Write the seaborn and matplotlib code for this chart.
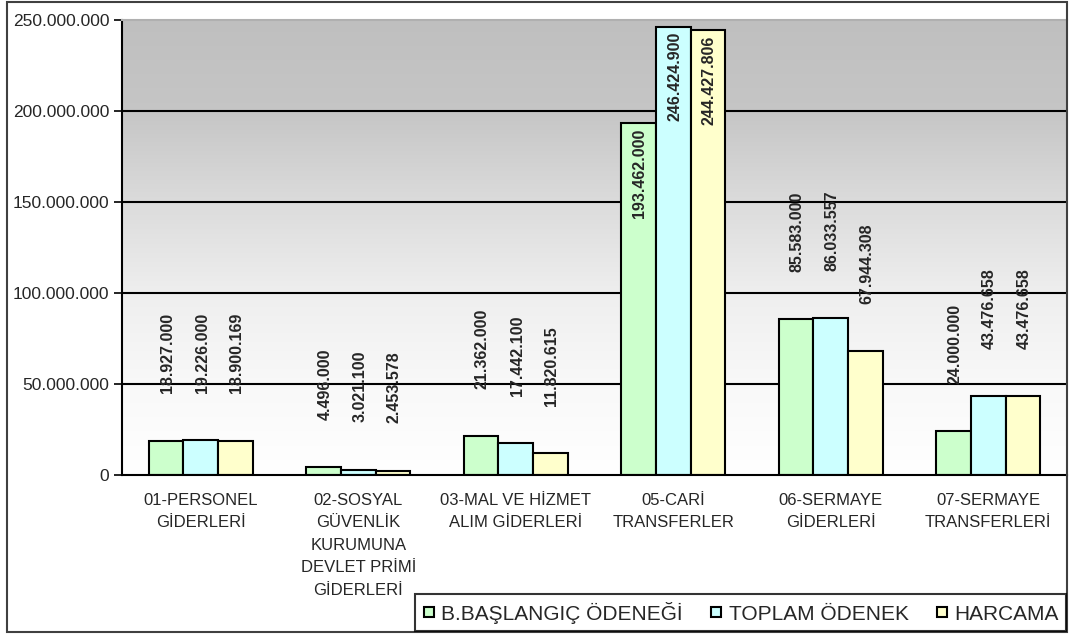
import numpy as np
import pandas as pd
import matplotlib
matplotlib.use("Agg")
import matplotlib.pyplot as plt
import seaborn as sns
from matplotlib.patches import Rectangle
from matplotlib.lines import Line2D
from matplotlib.ticker import FixedLocator

categories = [
    "01-PERSONEL\nGİDERLERİ",
    "02-SOSYAL\nGÜVENLİK\nKURUMUNA\nDEVLET PRİMİ\nGİDERLERİ",
    "03-MAL VE HİZMET\nALIM GİDERLERİ",
    "05-CARİ\nTRANSFERLER",
    "06-SERMAYE\nGİDERLERİ",
    "07-SERMAYE\nTRANSFERLERİ",
]
series = ["B.BAŞLANGIÇ ÖDENEĞİ", "TOPLAM ÖDENEK", "HARCAMA"]
baslangic = [18927000, 4496000, 21362000, 193462000, 85583000, 24000000]
toplam = [19226000, 3021100, 17442100, 246424900, 86033557, 43476658]
harcama = [18900169, 2453578, 11820615, 244427806, 67944308, 43476658]
yticks = [0, 50000000, 100000000, 150000000, 200000000, 250000000]
colors = ["#ccffcc", "#ccffff", "#ffffcc"]


def tr(v):
    return f"{v:,.0f}".replace(",", ".")


rows = []
for s, vals in zip(series, [baslangic, toplam, harcama]):
    for c, v in zip(categories, vals):
        rows.append({"cat": c, "series": s, "val": v})
df = pd.DataFrame(rows)

sns.set_style("white")
plt.rcParams["font.family"] = ["Liberation Sans", "DejaVu Sans"]

W, H = 1070, 634
fig = plt.figure(figsize=(W / 100, H / 100), dpi=100)
ax = fig.add_axes([122 / W, 1 - 475 / H, (1067 - 122) / W, (475 - 20) / H])

# gradient background
t = np.linspace(1, 0, 256)
g = np.interp(t, [0, 0.2, 0.4, 0.6, 0.8, 1.0], [1.0, 0.975, 0.935, 0.86, 0.775, 0.75])
img = np.dstack([g, g, g]).reshape(256, 1, 3)
ax.imshow(img, extent=[0, 1, 0, 1], transform=ax.transAxes, aspect="auto", zorder=0)

sns.barplot(data=df, x="cat", y="val", hue="series", hue_order=series,
            order=categories, palette=colors, width=0.66, edgecolor="black",
            linewidth=1.5, ax=ax, saturation=1, zorder=2, legend=False)

ax.set_xlim(-0.5, len(categories) - 0.5)
ax.set_ylim(yticks[0], yticks[-1])
ax.yaxis.set_major_locator(FixedLocator(yticks))
ax.set_yticklabels([tr(v) for v in yticks], fontsize=12.5)
for yv in yticks[1:-1]:
    ax.axhline(yv, color="black", lw=1.5, zorder=1)

ax.set_xlabel("")
ax.set_ylabel("")
ax.set_xticks(range(len(categories)))
ax.set_xticklabels(categories, fontsize=12, linespacing=1.62)
ax.set_xticks([i + 0.5 for i in range(len(categories) - 1)], minor=True)
ax.tick_params(axis="x", which="major", length=0, pad=13)
ax.tick_params(axis="x", which="minor", length=5, width=1.2, direction="out", color="black")
ax.tick_params(axis="y", length=6, width=1.2, direction="out", color="black", pad=3, left=True)

for side in ["left", "bottom"]:
    ax.spines[side].set_color("black")
    ax.spines[side].set_linewidth(1.5)
ax.spines["top"].set_color("#b0b0b0")
ax.spines["top"].set_linewidth(1.5)
ax.spines["right"].set_visible(False)

# value labels
for cont in ax.containers:
    for bar in cont:
        h = bar.get_height()
        cx = bar.get_x() + bar.get_width() / 2
        if h + 80000000 > yticks[-1]:
            ax.annotate(tr(h), xy=(cx, h), xytext=(1, -4), textcoords="offset points",
                        rotation=90, ha="center", va="top", fontsize=11.5,
                        fontweight="bold", zorder=5)
        else:
            ax.annotate(tr(h), xy=(cx, h), xytext=(1, 34), textcoords="offset points",
                        rotation=90, ha="center", va="bottom", fontsize=11.5,
                        fontweight="bold", zorder=5)

handles = [Line2D([], [], linestyle="none", marker="s", markersize=7,
                  markerfacecolor=c, markeredgecolor="black", markeredgewidth=1.5)
           for c in colors]
leg = fig.legend(handles, series, loc="lower right", bbox_to_anchor=(1066 / W, 3 / H),
                 ncol=3, frameon=True, fancybox=False, edgecolor="black", fontsize=15,
                 handlelength=0.6, handletextpad=0.3,
                 columnspacing=1.3, borderpad=0.35, borderaxespad=0)
leg.get_frame().set_linewidth(1.5)
leg.get_frame().set_facecolor("white")

fig.add_artist(Rectangle((7 / W, 2 / H), (1067 - 7) / W, (632 - 2) / H,
                         transform=fig.transFigure, fill=False,
                         edgecolor="#404040", lw=1.5))

fig.savefig("out.png", dpi=100, facecolor="white")
